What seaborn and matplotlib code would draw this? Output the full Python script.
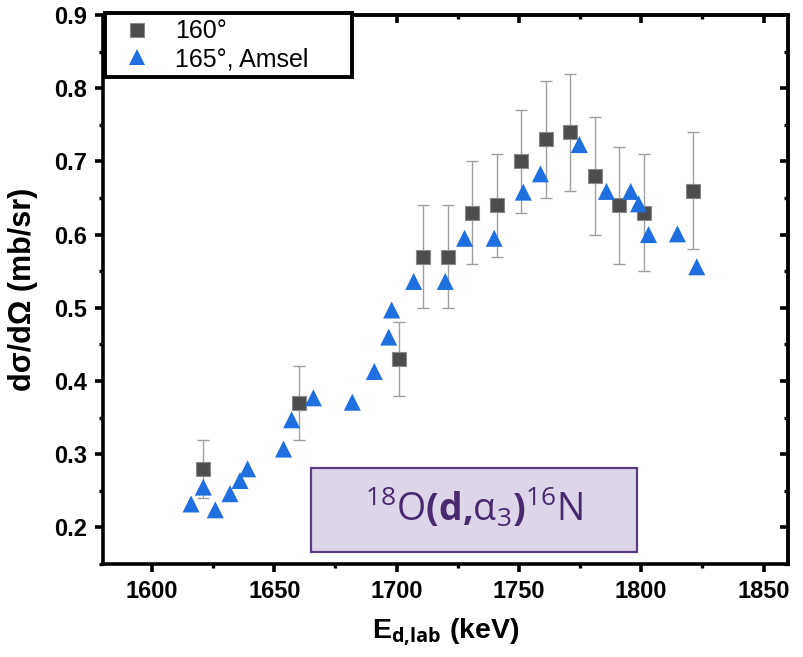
import matplotlib
matplotlib.use("Agg")
import matplotlib.pyplot as plt
from matplotlib.lines import Line2D
from matplotlib.patches import Rectangle
from matplotlib.ticker import MultipleLocator
import seaborn as sns
import pandas as pd

# 160 degree data with uncertainties
e_160 = [1621, 1660, 1701, 1711, 1721, 1731, 1741, 1751, 1761, 1771, 1781, 1791, 1801, 1821]
xs_160 = [0.28, 0.37, 0.43, 0.57, 0.57, 0.63, 0.64, 0.70, 0.73, 0.74, 0.68, 0.64, 0.63, 0.66]
err_160 = [0.04, 0.05, 0.05, 0.07, 0.07, 0.07, 0.07, 0.07, 0.08, 0.08, 0.08, 0.08, 0.08, 0.08]

# 165 degree data (Amsel)
e_165 = [1616.0, 1621.0, 1625.9, 1631.9, 1636.0, 1639.1, 1653.8, 1657.1, 1666.0, 1681.9,
         1690.9, 1696.8, 1698.0, 1707.0, 1719.9, 1727.8, 1739.9, 1751.8, 1758.8, 1774.7,
         1785.8, 1795.7, 1798.9, 1803.0, 1814.8, 1822.7]
xs_165 = [0.232, 0.255, 0.224, 0.246, 0.264, 0.280, 0.307, 0.347, 0.377, 0.371,
          0.413, 0.460, 0.497, 0.536, 0.536, 0.595, 0.595, 0.658, 0.683, 0.723,
          0.659, 0.659, 0.642, 0.600, 0.601, 0.556]

labels = ["160°", "165°, Amsel"]
x_ticks = [1600, 1650, 1700, 1750, 1800, 1850]
y_ticks = [0.2, 0.3, 0.4, 0.5, 0.6, 0.7, 0.8, 0.9]

df160 = pd.DataFrame({"E": e_160, "xs": xs_160, "err": err_160})
df165 = pd.DataFrame({"E": e_165, "xs": xs_165})

sns.set_style("ticks")
plt.rcParams["font.family"] = ["Liberation Sans", "DejaVu Sans"]
plt.rcParams["mathtext.fontset"] = "custom"
plt.rcParams["mathtext.rm"] = "Open Sans"
plt.rcParams["mathtext.bf"] = "Open Sans:bold"
plt.rcParams["mathtext.it"] = "Open Sans:italic"
plt.rcParams["text.color"] = "black"
plt.rcParams["axes.labelcolor"] = "black"
plt.rcParams["xtick.color"] = "black"
plt.rcParams["ytick.color"] = "black"

W, H = 804, 657
fig = plt.figure(figsize=(W / 100, H / 100), dpi=100)
L, R, T, B = 103, 788, 15, 564
ax = fig.add_axes([L / W, 1 - B / H, (R - L) / W, (B - T) / H])

sq_color = "#4d4d4d"
tri_color = "#1f6fde"

ax.errorbar(df160["E"], df160["xs"], yerr=df160["err"], fmt="none",
            ecolor="#a0a0a0", elinewidth=1.0, capsize=4.3, capthick=1.0, zorder=1)
sns.scatterplot(data=df160, x="E", y="xs", marker="s", s=95, color=sq_color,
                edgecolor="#8a8a8a", linewidth=0.8, ax=ax, zorder=2)
sns.scatterplot(data=df165, x="E", y="xs", marker="^", s=150, color=tri_color,
                edgecolor="none", linewidth=0, ax=ax, zorder=3)

ax.set_xlim(1580, 1860)
ax.set_ylim(0.15, 0.9)
ax.set_xticks(x_ticks)
ax.set_yticks(y_ticks)
ax.xaxis.set_minor_locator(MultipleLocator(25))
ax.yaxis.set_minor_locator(MultipleLocator(0.05))
ax.set_yticklabels([f"{v:.1f}" for v in y_ticks])

for sp in ax.spines.values():
    sp.set_linewidth(2.6)
    sp.set_color("black")

ax.tick_params(which="major", direction="out", length=5.5, width=2.6, labelsize=17, pad=6)
ax.tick_params(which="minor", direction="out", length=3.2, width=2.4)
for lab in ax.get_xticklabels() + ax.get_yticklabels():
    lab.set_fontweight("bold")

# inward ticks on the top and right edges
top = ax.secondary_xaxis("top")
top.set_xticks(x_ticks)
top.xaxis.set_minor_locator(MultipleLocator(25))
top.tick_params(which="major", direction="in", length=5.5, width=2.6, labeltop=False)
top.tick_params(which="minor", direction="in", length=3.2, width=2.4)
top.spines["top"].set_linewidth(2.6)
right = ax.secondary_yaxis("right")
right.set_yticks(y_ticks)
right.yaxis.set_minor_locator(MultipleLocator(0.05))
right.tick_params(which="major", direction="in", length=5.5, width=2.6, labelright=False)
right.tick_params(which="minor", direction="in", length=3.2, width=2.4)
right.spines["right"].set_linewidth(2.6)

ax.set_xlabel(r"E$_{\mathbf{d{,}lab}}$ (keV)", fontsize=20.5, fontweight="bold")
ax.set_ylabel("dσ/dΩ (mb/sr)", fontsize=22, fontweight="bold")
ax.xaxis.set_label_coords(0.5, -0.096)
ax.yaxis.set_label_coords(-0.095, 0.5)

handles = [
    Line2D([], [], linestyle="none", marker="s", markersize=9.8, color=sq_color,
           markeredgecolor="#8a8a8a", markeredgewidth=0.8),
    Line2D([], [], linestyle="none", marker="^", markersize=12.2, color=tri_color,
           markeredgewidth=0),
]
leg = ax.legend(handles, labels, loc="upper left",
                bbox_to_anchor=(105 / W, 1 - 13 / H, (352 - 105) / W, 0.0),
                bbox_transform=fig.transFigure, mode="expand", borderaxespad=0,
                fontsize=18, frameon=True, fancybox=False, framealpha=1,
                edgecolor="black", borderpad=0.25, labelspacing=0.15,
                handlelength=2.1, handletextpad=0.45, numpoints=1)
leg.get_frame().set_linewidth(2.8)
leg.set_zorder(5)

# reaction label box
x0, x1 = (311 - L) / (R - L), (637 - L) / (R - L)
y0, y1 = (B - 552) / (B - T), (B - 468) / (B - T)
ax.add_patch(Rectangle((x0, y0), x1 - x0, y1 - y0, transform=ax.transAxes,
                       facecolor="#ddd5e8", edgecolor="#5b3e80", linewidth=1.6, zorder=4))
ax.text((x0 + x1) / 2, (B - 507) / (B - T),
        r"$\mathrm{^{18}O}\mathbf{(d{,}}\mathrm{\alpha_{3}}\mathbf{)}\mathrm{^{16}N}$",
        transform=ax.transAxes, ha="center", va="center", fontsize=27,
        color="#4a2a6e", zorder=5)

fig.savefig("out.png", dpi=100)
